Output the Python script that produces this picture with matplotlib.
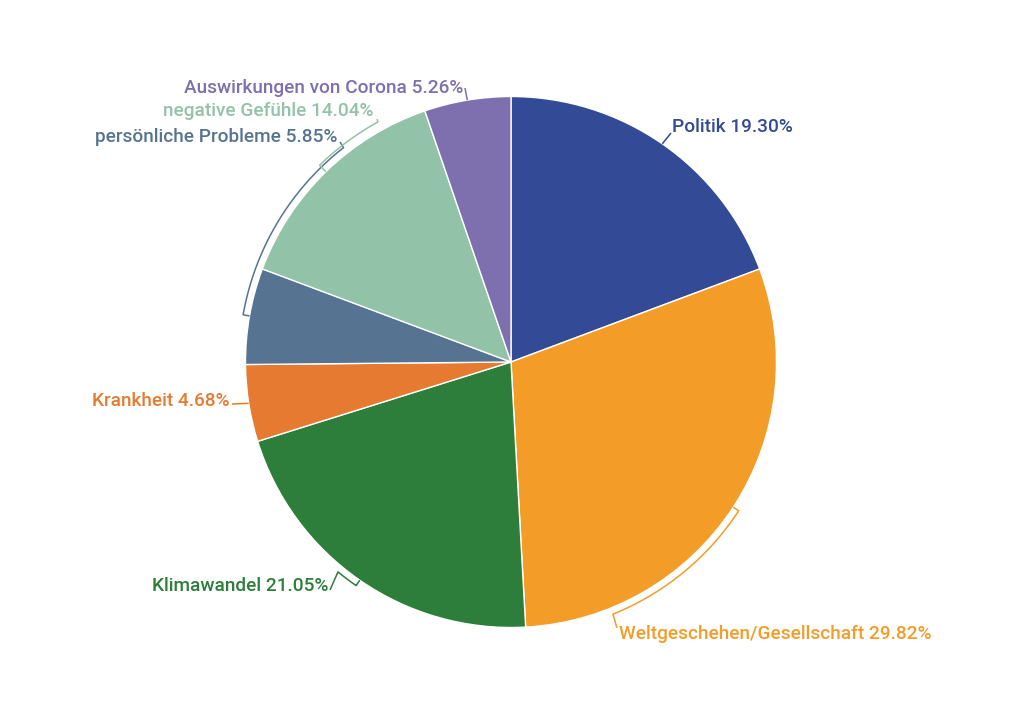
import numpy as np
import matplotlib.pyplot as plt

labels = ['Politik', 'Weltgeschehen/Gesellschaft', 'Klimawandel', 'Krankheit',
          'persönliche Probleme', 'negative Gefühle', 'Auswirkungen von Corona']
values = [19.30, 29.82, 21.05, 4.68, 5.85, 14.04, 5.26]
colors = ['#334a96', '#f39c28', '#2c7e3a', '#e67a30', '#567491', '#92c2a8', '#7e70ae']

# label layout (pixel coords): text anchor x, y, alignment, leader end, arc end angle
label_pos = [(672, 127, 'left'), (619, 634, 'left'), (328, 586, 'right'),
             (230, 401, 'right'), (337, 137, 'right'), (373, 111, 'right'),
             (463, 88, 'right')]
leader_end = [(671, 133), (617, 628), (330, 590), (232, 404), (340, 142),
              (377, 119), (465, 88)]
arc_to = [None, -68, -129.5, None, 128, 119, None]
arc_gap = [0, 6.5, 6.5, 0, 6.5, 9, 0]

cx, cy, R = 511, 362, 265.5

plt.rcParams['font.family'] = ['Roboto', 'DejaVu Sans']
fig = plt.figure(figsize=(10.24, 7.24), dpi=100)
ax = fig.add_axes([0, 0, 1, 1])

# y axis is inverted (pixel coords), so clockwise on screen = counterclockwise in data
wedges, _ = ax.pie(values, colors=colors, startangle=-90, counterclock=True,
                   center=(cx, cy), radius=R, normalize=True,
                   wedgeprops=dict(edgecolor='white', linewidth=1))
ax.set_xlim(0, 1024)
ax.set_ylim(724, 0)
ax.set_aspect('equal')
ax.axis('off')

cum = np.cumsum([0] + values) / sum(values) * 360
pt = lambda a, r: (cx + r * np.cos(np.radians(a)), cy - r * np.sin(np.radians(a)))
for i, lab in enumerate(labels):
    mid = 90 - (cum[i] + cum[i + 1]) / 2
    xs, ys = [], []
    p0 = pt(mid, R)
    xs.append(p0[0]); ys.append(p0[1])
    if arc_to[i] is not None:
        end = mid + ((arc_to[i] - mid + 180) % 360 - 180)
        rr = R + arc_gap[i]
        for a in np.linspace(mid, end, 60):
            p = pt(a, rr)
            xs.append(p[0]); ys.append(p[1])
    xs.append(leader_end[i][0]); ys.append(leader_end[i][1])
    ax.plot(xs, ys, color=colors[i], lw=1.1, solid_capstyle='butt')
    tx, ty, ha = label_pos[i]
    ax.text(tx, ty, f'{lab} {values[i]:.2f}%', color=colors[i], ha=ha, va='center',
            fontsize=13.7, fontweight='medium')

fig.savefig('out.png', dpi=100, facecolor='white')
